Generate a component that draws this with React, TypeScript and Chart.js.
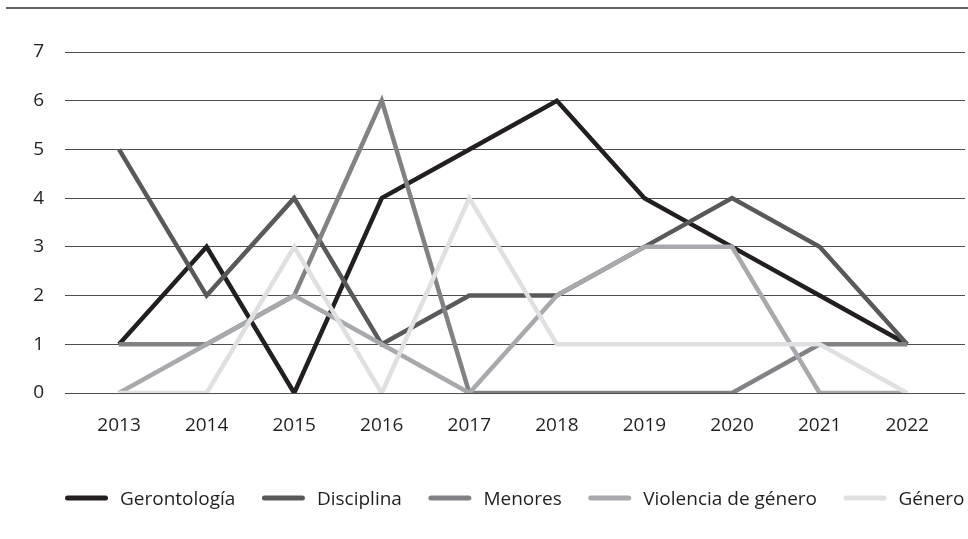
import React, { useEffect, useRef } from "react";
import { Chart, registerables } from "chart.js";

Chart.register(...registerables);

const years = ["2013", "2014", "2015", "2016", "2017", "2018", "2019", "2020", "2021", "2022"];
const seriesNames = ["Gerontología", "Disciplina", "Menores", "Violencia de género", "Género"];
const gerontologia = [1, 3, 0, 4, 5, 6, 4, 3, 2, 1];
const disciplina = [5, 2, 4, 1, 2, 2, 3, 4, 3, 1];
const menores = [1, 1, 2, 6, 0, 0, 0, 0, 1, 1];
const violencia = [0, 1, 2, 1, 0, 2, 3, 3, 0, 0];
const genero = [0, 0, 3, 0, 4, 1, 1, 1, 1, 0];
const seriesColors = ["#231f20", "#58595b", "#808285", "#a7a9ac", "#dfe0e1"];
const yTicks = [0, 1, 2, 3, 4, 5, 6, 7];

const FONT = '"Open Sans", "DejaVu Sans", sans-serif';

const frameAndLegend = {
  id: "frameAndLegend",
  beforeDraw(chart: any) {
    const ctx = chart.ctx;
    ctx.save();
    ctx.strokeStyle = "#333333";
    ctx.lineWidth = 1.5;
    ctx.beginPath();
    ctx.moveTo(6, 8);
    ctx.lineTo(chart.width, 8);
    ctx.stroke();
    ctx.restore();
  },
  afterDraw(chart: any) {
    const ctx = chart.ctx;
    ctx.save();
    ctx.font = `19px ${FONT}`;
    ctx.textBaseline = "middle";
    ctx.textAlign = "left";
    let x = 65;
    const y = 498;
    chart.data.datasets.forEach((ds: any) => {
      ctx.strokeStyle = ds.borderColor;
      ctx.lineWidth = 5;
      ctx.lineCap = "round";
      ctx.beginPath();
      ctx.moveTo(x + 2.5, y);
      ctx.lineTo(x + 43 - 2.5, y);
      ctx.stroke();
      ctx.fillStyle = "#231f20";
      ctx.fillText(ds.label, x + 55, y + 2);
      const w = ctx.measureText(ds.label).width;
      x += 55 + w + 26.5;
    });
    ctx.restore();
  },
};

export default function App() {
  const ref = useRef<HTMLCanvasElement | null>(null);
  useEffect(() => {
    const all = [gerontologia, disciplina, menores, violencia, genero];
    const chart = new Chart(ref.current as HTMLCanvasElement, {
      type: "line",
      data: {
        datasets: all.map((arr, i) => ({
          label: seriesNames[i],
          data: arr.map((v, j) => ({ x: j, y: v })),
          borderColor: seriesColors[i],
          backgroundColor: seriesColors[i],
          borderWidth: 4.5,
          pointRadius: 0,
          tension: 0,
          fill: false,
          order: -i,
        })),
      },
      options: {
        responsive: false,
        animation: false,
        devicePixelRatio: 1,
        layout: { padding: { left: 0, right: 3, top: 52, bottom: 0 } },
        plugins: { legend: { display: false }, tooltip: { enabled: false } },
        scales: {
          x: {
            type: "linear",
            min: -0.617,
            max: 9.66,
            grid: { display: false },
            border: { display: false },
            afterBuildTicks(scale: any) {
              scale.ticks = years.map((_, i) => ({ value: i }));
            },
            afterFit(scale: any) {
              scale.height = 146;
            },
            ticks: {
              autoSkip: false,
              maxRotation: 0,
              padding: 13,
              color: "#231f20",
              font: { family: FONT, size: 19 },
              callback: (v: any) => years[v],
            },
          },
          y: {
            min: 0,
            max: 7,
            afterBuildTicks(scale: any) {
              scale.ticks = yTicks.map((v) => ({ value: v }));
            },
            afterFit(scale: any) {
              scale.width = 65;
            },
            grid: { color: "#4d4d4d", lineWidth: 1, drawTicks: false },
            border: { display: false },
            ticks: {
              padding: 21,
              color: "#231f20",
              font: { family: FONT, size: 19 },
            },
          },
        },
      },
      plugins: [frameAndLegend],
    });
    return () => chart.destroy();
  }, []);
  return (
    <div style={{ position: "fixed", left: 0, top: 0, width: 968, height: 539, background: "#fff" }}>
      <canvas ref={ref} width={968} height={539} style={{ display: "block" }} />
    </div>
  );
}
